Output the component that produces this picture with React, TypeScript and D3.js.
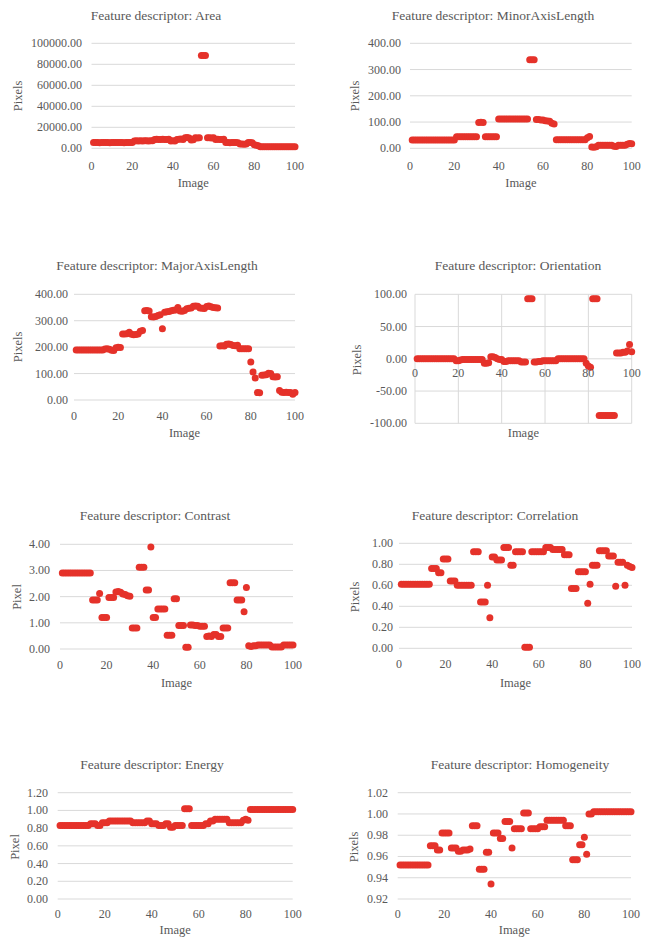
import React, { useEffect } from 'react';
import * as d3 from 'd3';

// ---------- data (image index 1..100) ----------
const xTickValues = [0, 20, 40, 60, 80, 100];

const areaValues = [
  5600, 5500, 5500, 5400, 5500, 5500, 5600, 5500, 5400, 5500, 5500, 5500, 5600, 5500, 5500, 5400, 5500, 5500, 5600, 5500,
  7000, 7100, 7000, 7200, 7000, 7100, 7300, 7000, 7100, 7200,
  8500, 8600, 8400, 8500, 8700, 8500, 8400, 8600,
  7000, 7200, 7000,
  8500, 8600, 8800, 8500,
  10000, 10200, 9800,
  8000, 8200,
  10000, 9900, 10100,
  88500, 88500, 88500,
  10000, 10100, 9900, 10000,
  8500, 8600, 8400, 8500, 8700,
  5500, 5600, 5400, 5500, 5600, 5500, 5400,
  4000, 4100, 3900, 4000,
  5500, 5600, 5400,
  3500, 3000, 2500,
  1500, 1500, 1500, 1500, 1500, 1500, 1500, 1500, 1500, 1500, 1500, 1500, 1500, 1500, 1500, 1500, 1500, 1500,
];

const minorValues = [
  32, 32, 32, 32, 32, 32, 32, 32, 32, 32, 32, 32, 32, 32, 32, 32, 32, 32, 32, 32,
  44, 44, 44, 44, 44, 44, 44, 44, 44, 44,
  98, 99, 98,
  44, 44, 44, 44, 44, 44,
  112, 112, 112, 112, 112, 112, 112, 112, 112, 112, 112, 112, 112, 112,
  337, 337, 337,
  110, 110, 108, 108,
  105, 104, 103,
  95, 93,
  33, 33, 33, 33, 33, 33, 33, 33, 33, 33, 33, 33, 33, 33,
  40, 45,
  5, 4, 6,
  12, 12, 12, 12, 12, 12, 12,
  8, 7,
  12, 12, 12, 12,
  15, 18, 17,
];

const majorValues = [
  189, 189, 189, 189, 189, 189, 189, 189, 189, 189, 189, 189, 189,
  193, 194, 192,
  188, 187,
  198, 200, 199,
  250, 250, 251,
  256,
  249, 247, 248, 250,
  260, 263,
  338, 339, 337,
  315, 314, 316,
  320, 323,
  270,
  332, 334, 335,
  338, 340, 341,
  350,
  337, 336, 339,
  345, 347, 348,
  355, 356, 355,
  348, 347, 346,
  354, 356, 353,
  350, 349, 348,
  204, 205, 204,
  211, 212, 210,
  206, 205, 207,
  194, 194, 194, 194, 194,
  144,
  106,
  83,
  28, 27,
  94, 95, 96,
  101, 100,
  88, 87, 88,
  36,
  29, 28, 29, 28, 28,
  22,
  28,
];

const orientationValues = [
  0, 0, 0, 0, 0, 0, 0, 0, 0, 0, 0, 0, 0, 0, 0, 0, 0, 0,
  -3, -3, -2,
  -1, -1, -1, -1, -1, -1, -1, -1, -1, -1,
  -7, -7, -6,
  3, 3, 2,
  0, -1, -1,
  -4, -4, -3,
  -3, -3, -3, -3, -3,
  -5, -5, -5,
  93, 93, 93,
  -5, -5, -4, -4,
  -3, -3, -3, -3, -3, -3, -3,
  0, 0, 0, 0, 0, 0, 0, 0, 0, 0, 0, 0, 0,
  -7,
  -11, -13,
  93, 93, 93,
  -88, -88, -88, -88, -88, -88, -88, -88,
  9, 9, 9, 10,
  10,
  12,
  22,
  11,
];

const contrastValues = [
  2.9, 2.9, 2.9, 2.9, 2.9, 2.9, 2.9, 2.9, 2.9, 2.9, 2.9, 2.9, 2.9,
  1.87, 1.87, 1.87,
  2.12,
  1.2, 1.2, 1.2,
  1.97, 1.97, 1.97,
  2.18, 2.2, 2.17,
  2.1, 2.08,
  2.03, 2.02,
  0.8, 0.8, 0.8,
  3.12, 3.12, 3.12,
  2.25, 2.25,
  3.9,
  1.2, 1.2,
  1.53, 1.53, 1.53, 1.53,
  0.53, 0.53, 0.53,
  1.92, 1.92,
  0.9, 0.9, 0.9,
  0.07, 0.07,
  0.92, 0.92, 0.9, 0.9,
  0.87, 0.87, 0.87,
  0.48, 0.5, 0.48,
  0.55, 0.55,
  0.48, 0.48,
  0.8, 0.8, 0.8,
  2.53, 2.53, 2.53,
  1.87, 1.87, 1.87,
  1.42,
  2.35,
  0.12, 0.1, 0.12, 0.12,
  0.15, 0.15, 0.15, 0.15, 0.15, 0.15,
  0.08, 0.08, 0.08, 0.08, 0.08,
  0.15, 0.15, 0.15, 0.15, 0.15,
];

const correlationValues = [
  0.61, 0.61, 0.61, 0.61, 0.61, 0.61, 0.61, 0.61, 0.61, 0.61, 0.61, 0.61, 0.61,
  0.76, 0.76, 0.76,
  0.72, 0.72,
  0.85, 0.85, 0.85,
  0.64, 0.64, 0.64,
  0.6, 0.6, 0.6, 0.6, 0.6, 0.6, 0.6,
  0.92, 0.92, 0.92,
  0.44, 0.44, 0.44,
  0.6,
  0.29,
  0.87, 0.87,
  0.84, 0.84, 0.84,
  0.96, 0.96, 0.96,
  0.79, 0.79,
  0.92, 0.92, 0.92, 0.92,
  0.01, 0.01, 0.01,
  0.92, 0.92, 0.92, 0.92, 0.92, 0.92,
  0.96, 0.96, 0.96,
  0.94, 0.94, 0.94, 0.94, 0.94,
  0.89, 0.89, 0.89,
  0.57, 0.57, 0.57,
  0.73, 0.73, 0.73, 0.73,
  0.43,
  0.61,
  0.79, 0.79, 0.79,
  0.93, 0.93, 0.93, 0.93,
  0.88, 0.88, 0.88,
  0.59,
  0.82, 0.82, 0.82,
  0.6,
  0.79, 0.78, 0.77,
];

const energyValues = [
  0.83, 0.83, 0.83, 0.83, 0.83, 0.83, 0.83, 0.83, 0.83, 0.83, 0.83, 0.83, 0.83,
  0.85, 0.85, 0.85,
  0.83, 0.83,
  0.86, 0.86, 0.86,
  0.88, 0.88, 0.88, 0.88, 0.88, 0.88, 0.88, 0.88, 0.88, 0.88,
  0.86, 0.86, 0.86, 0.86, 0.86, 0.86,
  0.88, 0.88,
  0.85, 0.85, 0.85,
  0.83, 0.83, 0.83,
  0.85, 0.85,
  0.81, 0.81,
  0.83, 0.83, 0.83, 0.83,
  1.02, 1.02, 1.02,
  0.83, 0.83, 0.83, 0.83, 0.83, 0.83,
  0.85, 0.85,
  0.88, 0.88,
  0.9, 0.9, 0.9, 0.9, 0.9, 0.9,
  0.86, 0.86, 0.86, 0.86, 0.86, 0.86,
  0.89, 0.9, 0.89,
  1.01, 1.01, 1.01, 1.01, 1.01, 1.01, 1.01, 1.01, 1.01, 1.01, 1.01, 1.01, 1.01, 1.01, 1.01, 1.01, 1.01, 1.01, 1.01,
];

const homogeneityValues = [
  0.952, 0.952, 0.952, 0.952, 0.952, 0.952, 0.952, 0.952, 0.952, 0.952, 0.952, 0.952, 0.952,
  0.97, 0.97, 0.97,
  0.966, 0.966,
  0.982, 0.982, 0.982, 0.982,
  0.968, 0.968, 0.968,
  0.965, 0.965,
  0.966, 0.966, 0.966,
  0.967,
  0.989, 0.989, 0.989,
  0.948, 0.948, 0.948,
  0.964, 0.964,
  0.934,
  0.982, 0.982, 0.982,
  0.977, 0.977,
  0.993, 0.993, 0.993,
  0.968,
  0.986, 0.986, 0.986, 0.986,
  1.001, 1.001, 1.001,
  0.986, 0.986, 0.986, 0.986,
  0.988, 0.988, 0.988,
  0.994, 0.994, 0.994, 0.994, 0.994, 0.994, 0.994, 0.994,
  0.989, 0.989, 0.989,
  0.957, 0.957, 0.957,
  0.971, 0.971,
  0.978,
  0.962,
  1.0, 1.0,
  1.002, 1.002, 1.002, 1.002, 1.002, 1.002, 1.002, 1.002, 1.002, 1.002, 1.002, 1.002, 1.002, 1.002, 1.002, 1.002, 1.002,
];

const titles = [
  'Feature descriptor: Area',
  'Feature descriptor: MinorAxisLength',
  'Feature descriptor: MajorAxisLength',
  'Feature descriptor: Orientation',
  'Feature descriptor: Contrast',
  'Feature descriptor: Correlation',
  'Feature descriptor: Energy',
  'Feature descriptor: Homogeneity',
];
const yLabels = ['Pixels', 'Pixels', 'Pixels', 'Pixels', 'Pixel', 'Pixels', 'Pixel', 'Pixels'];
const xLabel = 'Image';
const yDomains: [number, number][] = [
  [0, 100000], [0, 400], [0, 400], [-100, 100], [0, 4], [0, 1], [0, 1.2], [0.92, 1.02],
];
const yTickSteps = [20000, 100, 100, 50, 1, 0.2, 0.2, 0.02];
const seriesList = [
  areaValues, minorValues, majorValues, orientationValues,
  contrastValues, correlationValues, energyValues, homogeneityValues,
];

// ---------- layout ----------
const layouts = [
  { l: 91.5, r: 295, t: 43.3, b: 148.3, tx: 156, ty: 20, ylx: 22, yly: 96, xtY: 170, xlY: 187, ytR: 82, vgrid: false },
  { l: 410, r: 631.7, t: 43.3, b: 148.3, tx: 493, ty: 20, ylx: 359, yly: 96, xtY: 170, xlY: 187, ytR: 401, vgrid: false },
  { l: 74, r: 295, t: 294.3, b: 400, tx: 157, ty: 269.5, ylx: 22, yly: 347, xtY: 420, xlY: 437, ytR: 68, vgrid: false },
  { l: 415, r: 631.7, t: 294.3, b: 423.3, tx: 518, ty: 269.5, ylx: 361, yly: 360, xtY: 377, xlY: 437, ytR: 407, vgrid: true },
  { l: 60, r: 293, t: 544.3, b: 649, tx: 155, ty: 519.5, ylx: 21, yly: 597, xtY: 669, xlY: 687, ytR: 50, vgrid: false },
  { l: 399, r: 632, t: 543.3, b: 648.3, tx: 495, ty: 519.5, ylx: 359, yly: 597, xtY: 668, xlY: 687, ytR: 393, vgrid: false },
  { l: 57.7, r: 292.7, t: 792.7, b: 899, tx: 152, ty: 769, ylx: 19, yly: 847, xtY: 918, xlY: 934, ytR: 48, vgrid: false },
  { l: 397.7, r: 631, t: 792.7, b: 899, tx: 520, ty: 769, ylx: 358, yly: 847, xtY: 918, xlY: 934, ytR: 388, vgrid: false },
];

const FONT = '"Liberation Serif", "DejaVu Serif", serif';
const TEXT = '#595959';
const GRID = '#d9d9d9';
const DOT = '#e5322a';

const locale = d3.formatLocale({ decimal: '.', thousands: ',', grouping: [3], currency: ['', ''], minus: '-' });
const fmt2 = locale.format('.2f');

function Panel({ idx }: { idx: number }) {
  const L = layouts[idx];
  const [y0, y1] = yDomains[idx];
  const x = d3.scaleLinear().domain([0, 100]).range([L.l, L.r]);
  const y = d3.scaleLinear().domain([y0, y1]).range([L.b, L.t]);
  const step = yTickSteps[idx];
  const n = Math.round((y1 - y0) / step);
  const yTicks = d3.range(n + 1).map((k) => y0 + k * step);
  const values = seriesList[idx];
  return (
    <g>
      {yTicks.map((t) => (
        <line key={'g' + t} x1={L.l} x2={L.r} y1={y(t)} y2={y(t)} stroke={GRID} strokeWidth={1} />
      ))}
      {L.vgrid &&
        xTickValues.map((t) => (
          <line key={'v' + t} x1={x(t)} x2={x(t)} y1={L.t} y2={L.b} stroke={GRID} strokeWidth={1} />
        ))}
      {values.map((v, i) => (
        <circle key={i} cx={x(i + 1)} cy={y(v)} r={3.5} fill={DOT} />
      ))}
      <text x={L.tx} y={L.ty} textAnchor="middle" fontSize={13.5} fill={TEXT} fontFamily={FONT}>
        {titles[idx]}
      </text>
      {yTicks.map((t) => (
        <text key={'yt' + t} x={L.ytR} y={y(t) + 4} textAnchor="end" fontSize={12} fill={TEXT} fontFamily={FONT}>
          {fmt2(t)}
        </text>
      ))}
      {xTickValues.map((t) => (
        <text key={'xt' + t} x={x(t)} y={L.xtY} textAnchor="middle" fontSize={12} fill={TEXT} fontFamily={FONT}>
          {t}
        </text>
      ))}
      <text x={(L.l + L.r) / 2} y={L.xlY} textAnchor="middle" fontSize={12.5} fill={TEXT} fontFamily={FONT}>
        {xLabel}
      </text>
      <text
        transform={`translate(${L.ylx},${L.yly}) rotate(-90)`}
        textAnchor="middle"
        fontSize={12.5}
        fill={TEXT}
        fontFamily={FONT}
      >
        {yLabels[idx]}
      </text>
    </g>
  );
}

export default function App() {
  useEffect(() => {
    document.body.style.margin = '0';
  }, []);
  return (
    <svg width={650} height={938} style={{ display: 'block', background: '#fff' }}>
      <rect x={0} y={0} width={650} height={938} fill="#fff" />
      {titles.map((_, i) => (
        <Panel key={i} idx={i} />
      ))}
    </svg>
  );
}
